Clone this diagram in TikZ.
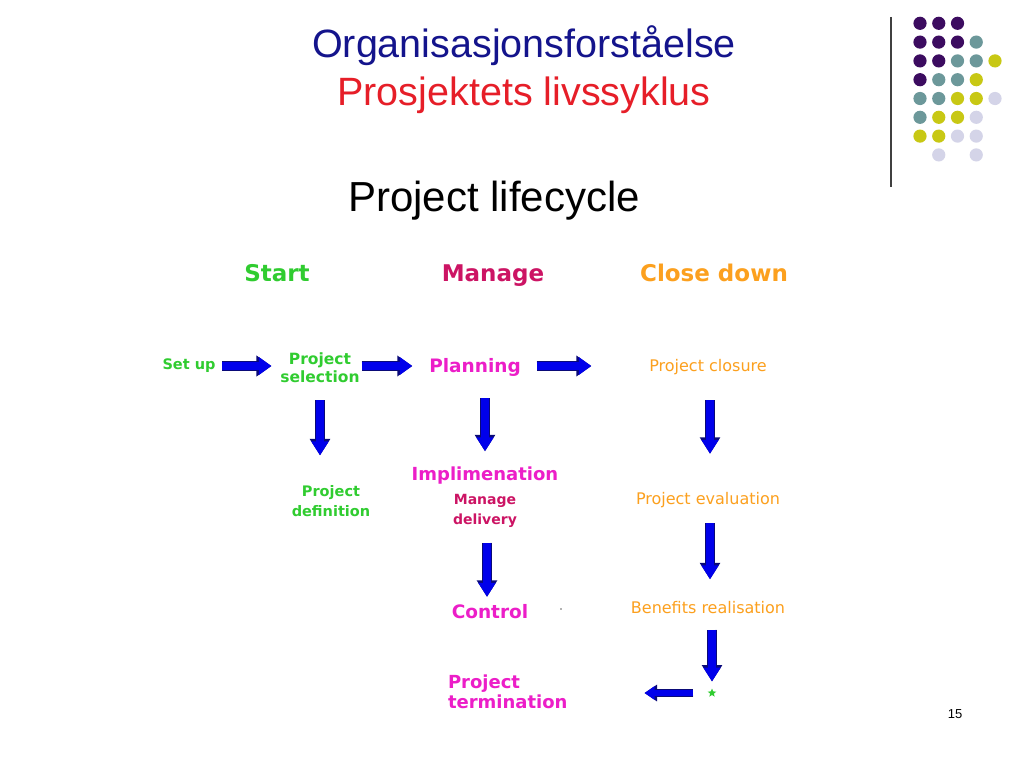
\documentclass[tikz,border=0pt]{standalone}
\usepackage{fontspec}
\setmainfont{Liberation Sans}
\newfontfamily\vf{DejaVu Sans}
\usetikzlibrary{arrows.meta,shapes.geometric}
\definecolor{tblue}{RGB}{20,20,140}
\definecolor{tred}{RGB}{230,30,40}
\definecolor{dpurple}{RGB}{60,12,96}
\definecolor{dteal}{RGB}{108,152,154}
\definecolor{dyellow}{RGB}{200,200,20}
\definecolor{dlav}{RGB}{212,212,232}
\definecolor{cgreen}{RGB}{48,204,48}
\definecolor{cmag}{RGB}{236,30,200}
\definecolor{ccrim}{RGB}{204,20,100}
\definecolor{corange}{RGB}{252,160,30}
\definecolor{ablue}{RGB}{0,0,235}
\definecolor{anavy}{RGB}{10,10,120}
\begin{document}
\begin{tikzpicture}[x=1pt,y=-1pt,
  every node/.style={inner sep=0pt,outer sep=0pt},
  title/.style={font=\fontsize{39.5}{44}\selectfont},
  head/.style={anchor=base,font=\vf\bfseries\fontsize{23}{27}\selectfont},
  gtxt/.style={text=cgreen,align=center,font=\vf\bfseries\fontsize{14.5}{20}\selectfont},
  mtxt/.style={text=cmag,align=center,font=\vf\bfseries\fontsize{18.5}{20}\selectfont},
  otxt/.style={text=corange,align=center,font=\vf\fontsize{16}{20}\selectfont},
  harrow/.style={draw=ablue,line width=8pt,-{Triangle[width=17pt,length=12.5pt]},
    preaction={draw=anavy,line width=10pt,-{Triangle[width=20pt,length=15pt]}}},
  varrow/.style={draw=ablue,line width=8.5pt,-{Triangle[width=16.5pt,length=14pt]},
    preaction={draw=anavy,line width=10.5pt,-{Triangle[width=19.5pt,length=16.5pt]}}},
  larrow/.style={draw=ablue,line width=6pt,-{Triangle[width=13pt,length=10pt]},
    preaction={draw=anavy,line width=8pt,-{Triangle[width=16pt,length=12.5pt]}}}
]
\useasboundingbox[fill=white] (0,0) rectangle (1024,768);

% titles
\node[title,text=tblue] (t1) at (524,46) {Organisasjonsforståelse};
\node[title,text=tred] (t2) at (524,95) {Prosjektets livssyklus};
\node[font=\fontsize{42}{46}\selectfont] (t3) at (494,201) {Project lifecycle};

% decoration
\draw[line width=1.2pt,black!75] (891,17) -- (891,187);
\foreach \c/\r/\col in {
  1/1/dpurple,2/1/dpurple,3/1/dpurple,
  1/2/dpurple,2/2/dpurple,3/2/dpurple,4/2/dteal,
  1/3/dpurple,2/3/dpurple,3/3/dteal,4/3/dteal,5/3/dyellow,
  1/4/dpurple,2/4/dteal,3/4/dteal,4/4/dyellow,
  1/5/dteal,2/5/dteal,3/5/dyellow,4/5/dyellow,5/5/dlav,
  1/6/dteal,2/6/dyellow,3/6/dyellow,4/6/dlav,
  1/7/dyellow,2/7/dyellow,3/7/dlav,4/7/dlav,
  2/8/dlav,4/8/dlav}
  \fill[\col] ({920+18.75*(\c-1)},{23.3+18.8*(\r-1)}) circle (6.6);
\node[font=\fontsize{13}{15}\selectfont] (pg) at (955,714) {15};

% headers
\node[head,text=cgreen] (hstart) at (277,281) {Start};
\node[head,text=ccrim] (hmanage) at (493,281) {Manage};
\node[head,text=corange] (hclose) at (714,281) {Close down};

% nodes
\node[gtxt] (setup) at (189,366) {Set up};
\node[gtxt,font=\vf\bfseries\fontsize{15.5}{18}\selectfont] (psel) at (320,368) {Project\\selection};
\node[mtxt] (plan) at (475,367) {Planning};
\node[otxt] (closure) at (708,367.5) {Project closure};
\node[gtxt] (pdef) at (331,501) {Project\\definition};
\node[mtxt,font=\vf\bfseries\fontsize{18}{20}\selectfont] (impl) at (485,476) {Implimenation};
\node[text=ccrim,align=center,font=\vf\bfseries\fontsize{14}{20}\selectfont] (deliv) at (485,511) {Manage\\delivery};
\node[mtxt] (control) at (490,612) {Control};
\node[otxt] (eval) at (708,500.5) {Project evaluation};
\node[otxt] (benef) at (708,607.5) {Benefits realisation};
\node[mtxt,align=left,anchor=west,font=\vf\bfseries\fontsize{18}{20}\selectfont] (term) at (448,692) {Project\\termination};
\node[star,star points=5,star point ratio=2.3,fill=cgreen,minimum size=9pt] (star) at (712,693) {};
\fill[black!60] (561,609) circle (0.8);

% connectors
\draw[harrow,shorten <=7pt,shorten >=9pt] (setup.east) -- (setup.east -| psel.west);
\draw[harrow,shorten <=2pt,shorten >=17pt] (psel.east |- setup.east) -- (setup.east -| plan.west);
\draw[harrow,shorten <=16pt,shorten >=58pt] (plan.east |- setup.east) -- (setup.east -| closure.west);
\draw[varrow,shorten <=17pt,shorten >=30pt] (psel.south) -- (psel.south |- pdef.north);
\draw[varrow,shorten <=22pt,shorten >=16pt] (plan.south -| impl.north) -- (impl.north);
\draw[varrow,shorten <=25pt,shorten >=39pt] ([xshift=2pt]closure.south) -- ([xshift=2pt]closure.south |- eval.north);
\draw[varrow,shorten <=15pt,shorten >=8pt] ([xshift=2pt]deliv.south) -- ([xshift=2pt]deliv.south |- control.north);
\draw[varrow,shorten <=15pt,shorten >=22pt] ([xshift=2pt]eval.south) -- ([xshift=2pt]eval.south |- benef.north);
\draw[varrow,shorten <=16pt,shorten >=7pt] (benef.south -| star.north) -- (star.north);
\draw[larrow,shorten <=16pt,shorten >=77pt] (star.west) -- (star.west -| term.east);
\end{tikzpicture}
\end{document}
